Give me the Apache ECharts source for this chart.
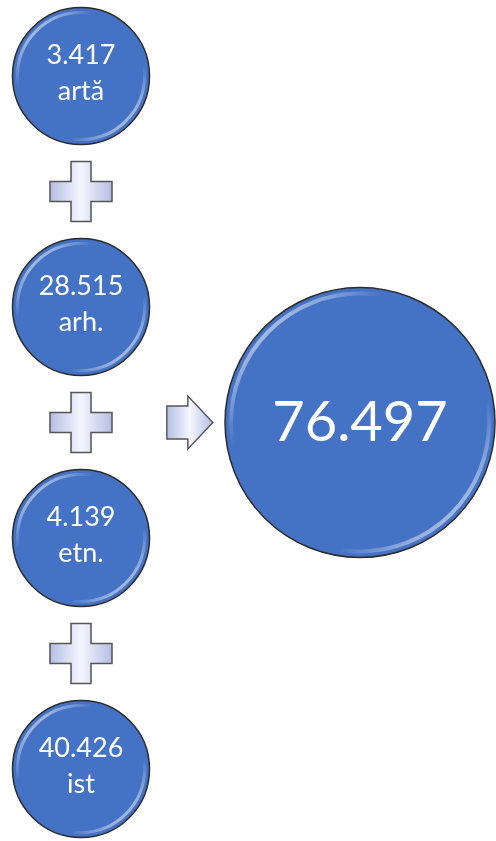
<!DOCTYPE html>
<html>
<head>
<meta charset="utf-8">
<script src="https://cdn.jsdelivr.net/npm/echarts@6/dist/echarts.min.js"></script>
<style>
  html, body { margin: 0; padding: 0; background: #fff; }
  #chart { width: 496px; height: 841px; }
</style>
</head>
<body>
<div id="chart"></div>
<script>
// date
var names = ['artă', 'arh.', 'etn.', 'ist'];
var values = [3417, 28515, 4139, 40426];
var total = 76497;

// pozitii in diagrama (coloana, rand)
var smallCol = 0, arrowCol = 0.39, bigCol = 1;

function fmt(n) {
    return String(n).replace(/\B(?=(\d{3})+(?!\d))/g, '.');
}

var myChart = echarts.init(document.getElementById('chart'));

var rim = {
    type: 'linear', x: 0, y: 0, x2: 1, y2: 1,
    colorStops: [
        { offset: 0, color: 'rgba(255,255,255,1)' },
        { offset: 0.3, color: 'rgba(255,255,255,0)' },
        { offset: 0.7, color: 'rgba(255,255,255,0)' },
        { offset: 1, color: 'rgba(255,255,255,1)' }
    ]
};
var shapeFill = {
    type: 'linear', x: 0, y: 0, x2: 1, y2: 0,
    colorStops: [
        { offset: 0, color: '#b3bde3' },
        { offset: 0.5, color: '#f4f6fd' },
        { offset: 1, color: '#b3bde3' }
    ]
};

var smallData = values.map(function (v, i) {
    return { value: [smallCol, i], name: names[i], num: v };
});
var plusData = [];
for (var i = 0; i < values.length - 1; i++) plusData.push([smallCol, i + 0.5]);
var mid = (values.length - 1) / 2;

var option = {
    animation: false,
    grid: { left: 81, right: 136, top: 76, bottom: 72 },
    xAxis: { type: 'value', min: 0, max: 1, show: false },
    yAxis: { type: 'value', min: 0, max: 3, inverse: true, show: false },
    series: [
        {
            type: 'scatter',
            symbol: 'circle',
            symbolSize: 137,
            data: smallData,
            itemStyle: { color: '#4472C4', borderColor: '#2b2b2b', borderWidth: 1.5, opacity: 1 },
            label: {
                show: true,
                position: 'inside',
                color: '#fff',
                fontFamily: 'Lato',
                fontSize: 27,
                lineHeight: 36,
                offset: [0, -3],
                formatter: function (p) { return fmt(p.data.num) + '\n' + p.data.name; }
            }
        },
        {
            type: 'scatter',
            symbol: 'circle',
            symbolSize: 270,
            data: [{ value: [bigCol, mid], num: total }],
            itemStyle: { color: '#4472C4', borderColor: '#2b2b2b', borderWidth: 1.5, opacity: 1 },
            label: {
                show: true,
                position: 'inside',
                color: '#fff',
                fontFamily: 'Lato',
                fontSize: 56,
                formatter: function (p) { return fmt(p.data.num); }
            }
        },
        {
            type: 'scatter',
            symbol: 'circle',
            symbolSize: 127,
            silent: true,
            data: smallData.map(function (d) { return d.value; }),
            itemStyle: { color: 'rgba(0,0,0,0)', borderColor: rim, borderWidth: 3, opacity: 1 }
        },
        {
            type: 'scatter',
            symbol: 'circle',
            symbolSize: 258,
            silent: true,
            data: [[bigCol, mid]],
            itemStyle: { color: 'rgba(0,0,0,0)', borderColor: rim, borderWidth: 4, opacity: 1 }
        },
        {
            type: 'scatter',
            symbol: 'path://M21,0 H41 V20 H62 V40 H41 V60 H21 V40 H0 V20 H21 Z',
            symbolSize: [62, 60],
            data: plusData,
            itemStyle: { color: shapeFill, borderColor: '#555', borderWidth: 1.5, opacity: 1 }
        },
        {
            type: 'scatter',
            symbol: 'path://M0,10 H21 V0 L46,26.5 L21,53 V43 H0 Z',
            symbolSize: [46, 53],
            data: [[arrowCol, mid]],
            itemStyle: { color: shapeFill, borderColor: '#555', borderWidth: 1.5, opacity: 1 }
        }
    ]
};

myChart.setOption(option);
</script>
</body>
</html>
